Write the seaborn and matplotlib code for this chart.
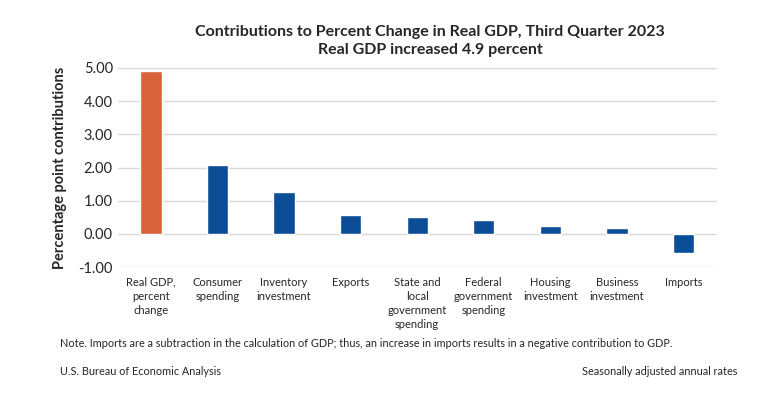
import numpy as np
import pandas as pd
import matplotlib
matplotlib.use("Agg")
import matplotlib.pyplot as plt
import seaborn as sns

# data
categories = ["Real GDP,\npercent\nchange", "Consumer\nspending", "Inventory\ninvestment",
              "Exports", "State and\nlocal\ngovernment\nspending", "Federal\ngovernment\nspending",
              "Housing\ninvestment", "Business\ninvestment", "Imports"]
values = [4.9, 2.09, 1.27, 0.58, 0.52, 0.43, 0.24, 0.18, -0.56]
kind = ["total"] + ["component"] * 8
yticks = [-1.0, 0.0, 1.0, 2.0, 3.0, 4.0, 5.0]

df = pd.DataFrame({"cat": categories, "val": values, "kind": kind})

sns.set_style("white")
plt.rcParams["font.family"] = ["Lato", "DejaVu Sans"]

fig = plt.figure(figsize=(7.74, 3.97), dpi=100)
ax = fig.add_axes([0.152, 0.327, 0.774, 0.502])

sns.barplot(data=df, x="cat", y="val", hue="kind", dodge=False, width=0.32,
            palette={"total": "#D8623A", "component": "#0B4D96"}, legend=False,
            saturation=1, ax=ax, zorder=3)

ax.set_ylim(-1, 5)
ax.set_xlim(-0.5, len(categories) - 0.5)
ax.set_yticks(yticks)
ax.set_yticklabels([f"{t:.2f}" for t in yticks], fontsize=10.5)
ax.yaxis.grid(True, color="#D9D9D9", linewidth=1, zorder=0)
ax.tick_params(axis="both", length=0)
ax.tick_params(axis="x", labelsize=8, pad=7)
for lbl in ax.get_xticklabels():
    lbl.set_linespacing(1.35)
for s in ax.spines.values():
    s.set_visible(False)
ax.set_xlabel("")
ax.set_ylabel("Percentage point contributions", fontsize=10.5, fontweight="bold", labelpad=8)

fig.text(0.556, 0.92, "Contributions to Percent Change in Real GDP, Third Quarter 2023",
         ha="center", va="center", fontsize=11.5, fontweight="bold")
fig.text(0.556, 0.873, "Real GDP increased 4.9 percent",
         ha="center", va="center", fontsize=11.5, fontweight="bold")

fig.text(0.078, 0.136, "Note. Imports are a subtraction in the calculation of GDP; thus, an increase in imports results in a negative contribution to GDP.",
         ha="left", va="center", fontsize=7.8)
fig.text(0.078, 0.065, "U.S. Bureau of Economic Analysis", ha="left", va="center", fontsize=7.8)
fig.text(0.953, 0.065, "Seasonally adjusted annual rates", ha="right", va="center", fontsize=7.8)

fig.savefig("out.png", dpi=100)
